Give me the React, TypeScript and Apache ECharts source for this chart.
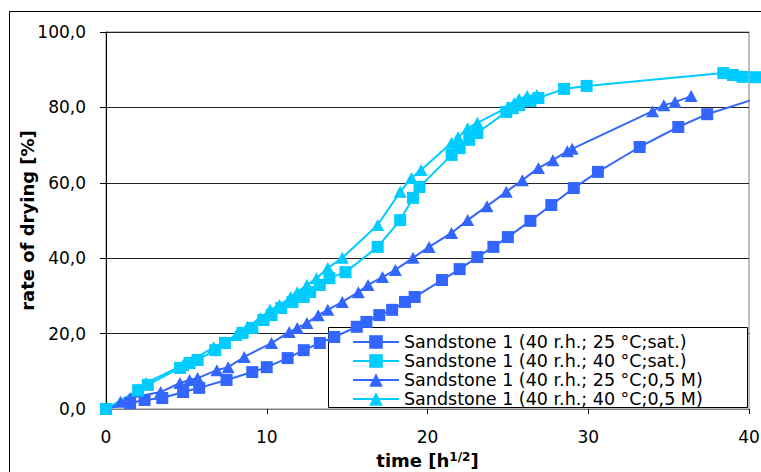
import React, { useEffect, useRef } from "react";
import * as echarts from "echarts";

const seriesNames = [
  "Sandstone 1 (40 r.h.; 25 °C;sat.)",
  "Sandstone 1 (40 r.h.; 40 °C;sat.)",
  "Sandstone 1 (40 r.h.; 25 °C;0,5 M)",
  "Sandstone 1 (40 r.h.; 40 °C;0,5 M)",
];

const sat25: [number, number][] = [
  [0, 0], [1.5, 1.6], [2.4, 2.4], [3.5, 2.9], [4.8, 4.5], [5.8, 5.6], [7.5, 7.7], [9.1, 9.8],
  [10.0, 11.1], [11.3, 13.5], [12.3, 15.6], [13.3, 17.5], [14.2, 19.1], [15.6, 21.8], [16.2, 23.1],
  [17.0, 24.9], [17.8, 26.3], [18.6, 28.4], [19.2, 29.7], [20.9, 34.2], [22.0, 37.1], [23.1, 40.3],
  [24.1, 43.0], [25.0, 45.6], [26.4, 49.9], [27.7, 54.1], [29.1, 58.6], [30.6, 62.9], [33.2, 69.5],
  [35.6, 74.8], [37.4, 78.2], [42.0, 84.5],
];

const sat40: [number, number][] = [
  [0, 0], [2.0, 5.0], [2.6, 6.4], [4.6, 10.9], [5.2, 12.2], [5.7, 13.0], [6.8, 15.6], [7.4, 17.5],
  [8.5, 20.2], [9.1, 21.5], [9.8, 23.6], [10.3, 24.9], [10.9, 26.8], [11.6, 28.4], [12.3, 29.7],
  [12.7, 31.0], [13.3, 32.9], [13.9, 34.7], [14.9, 36.3], [16.9, 43.0], [18.3, 50.1], [19.1, 56.0],
  [19.5, 58.9], [21.5, 67.4], [22.0, 69.2], [22.6, 71.4], [23.1, 73.2], [24.9, 78.8], [25.3, 79.8],
  [25.7, 80.6], [26.4, 81.7], [26.9, 82.5], [28.5, 84.9], [29.9, 85.7], [38.4, 89.1], [39.0, 88.6],
  [39.6, 88.1], [40.4, 88.0], [42.0, 87.8],
];

const m25: [number, number][] = [
  [0, 0], [0.9, 1.9], [1.5, 2.9], [3.4, 4.5], [4.6, 6.9], [5.2, 7.7], [5.7, 8.2], [6.9, 10.3],
  [7.6, 11.1], [8.6, 13.8], [10.3, 17.5], [11.4, 20.4], [11.9, 21.5], [12.5, 22.8], [13.2, 24.9],
  [13.8, 26.3], [14.7, 28.4], [15.7, 31.0], [16.3, 32.9], [17.2, 35.0], [18.0, 36.9], [19.1, 40.1],
  [20.1, 43.0], [21.5, 46.7], [22.5, 50.1], [23.7, 53.8], [24.9, 57.6], [25.9, 60.7], [26.9, 63.9],
  [27.8, 66.0], [28.7, 68.4], [29.0, 69.0], [34.0, 79.0], [34.7, 80.6], [35.4, 81.4], [36.4, 83.0],
];

const m40: [number, number][] = [
  [0, 0], [2.0, 5.0], [2.5, 6.9], [4.8, 11.7], [5.4, 13.0], [6.7, 16.4], [7.4, 17.8], [8.1, 19.6],
  [8.8, 21.8], [9.6, 24.1], [10.2, 26.3], [10.8, 27.6], [11.5, 29.7], [11.9, 31.0], [12.5, 32.9],
  [13.1, 34.7], [13.8, 37.4], [14.7, 40.1], [16.9, 48.8], [18.3, 57.6], [19.0, 61.3], [19.6, 63.4],
  [21.5, 70.6], [21.9, 72.1], [22.5, 74.5], [23.1, 75.9], [25.0, 80.1], [25.4, 81.2], [25.7, 82.2],
  [26.2, 83.0], [26.8, 83.3],
];

const FONT = "DejaVu Sans";
const BLUE = "#3366FF";
const CYAN = "#00CCFF";

export default function App() {
  const ref = useRef<HTMLDivElement>(null);
  useEffect(() => {
    if (!ref.current) return;
    const chart = echarts.init(ref.current, undefined, { renderer: "svg" });
    const mk = (name: string, data: [number, number][], color: string, symbol: string, size: any) => ({
      name,
      type: "line",
      data,
      clip: false,
      symbol,
      symbolSize: size,
      showAllSymbol: true,
      lineStyle: { color, width: 2 },
      itemStyle: { color },
      emphasis: { disabled: true },
    });
    chart.setOption({
      animation: false,
      backgroundColor: "#fff",
      textStyle: { fontFamily: FONT },
      grid: { left: 106, right: 12, top: 32, bottom: 63, show: true, borderColor: "#808080", borderWidth: 1, outerBoundsMode: "none" },
      graphic: [
        { type: "rect", left: 7, top: 9, shape: { x: 0, y: 0, width: 800, height: 500 }, style: { fill: "none", stroke: "#000", lineWidth: 1 }, z: 1, silent: true },
        { type: "rect", shape: { x: 328.5, y: 327.5, width: 419, height: 80 }, style: { fill: "#fff", stroke: "#000", lineWidth: 1 }, z: 3, silent: true },
      ],
      legend: {
        orient: "vertical",
        left: 352,
        top: 333,
        padding: 0,
        itemWidth: 46,
        itemHeight: 17,
        itemGap: 1,
        itemTextGap: 5,
        textStyle: { fontFamily: FONT, fontSize: 17.5, lineHeight: 17, color: "#000" },
        data: seriesNames,
        z: 5,
      },
      xAxis: {
        type: "value",
        min: 0,
        max: 40,
        interval: 10,
        name: "{a|time [h}{s|1/2}{a|]}",
        nameLocation: "middle",
        nameGap: 42,
        nameMoveOverlap: false,
        nameTextStyle: {
          rich: {
            a: { fontFamily: FONT, fontWeight: "bold", fontSize: 18, color: "#000" },
            s: { fontFamily: FONT, fontWeight: "bold", fontSize: 12, color: "#000", verticalAlign: "top" },
          },
        },
        axisLine: { lineStyle: { color: "#808080", width: 1 } },
        axisTick: { show: true, inside: false, length: 5, lineStyle: { color: "#000" } },
        axisLabel: { fontFamily: FONT, fontSize: 17, color: "#000", margin: 19 },
        splitLine: { show: false },
      },
      yAxis: {
        type: "value",
        min: 0,
        max: 100,
        interval: 20,
        name: "rate of drying [%]",
        nameLocation: "middle",
        nameGap: 70,
        nameMoveOverlap: false,
        nameTextStyle: { fontFamily: FONT, fontWeight: "bold", fontSize: 18, color: "#000" },
        axisLine: { show: true, lineStyle: { color: "#000", width: 1 } },
        axisTick: { show: true, inside: false, length: 6, lineStyle: { color: "#000" } },
        axisLabel: {
          fontFamily: FONT,
          fontSize: 17,
          color: "#000",
          margin: 20,
          formatter: (v: number) => v.toFixed(1).replace(".", ","),
        },
        splitLine: { show: true, lineStyle: { color: "#222", width: 1 } },
      },
      series: [
        mk(seriesNames[0], sat25, BLUE, "rect", 12),
        mk(seriesNames[1], sat40, CYAN, "rect", 12),
        mk(seriesNames[2], m25, BLUE, "triangle", [13, 12]),
        mk(seriesNames[3], m40, CYAN, "triangle", [13, 12]),
      ],
    });
    return () => chart.dispose();
  }, []);
  return <div ref={ref} style={{ position: "absolute", left: 0, top: 0, width: 761, height: 472 }} />;
}
